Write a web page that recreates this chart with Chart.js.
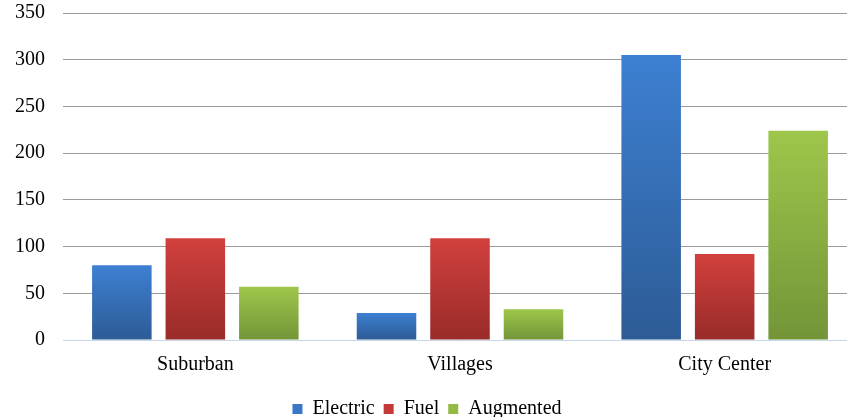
<!DOCTYPE html>
<html>
<head>
<meta charset="utf-8">
<script src="https://cdn.jsdelivr.net/npm/chart.js@4"></script>
<style>
  html, body { margin: 0; padding: 0; background: #fff; overflow: hidden; }
  #wrap { width: 860px; height: 446px; margin: -17px 0 0 -3px; }
</style>
</head>
<body>
<div id="wrap"><canvas id="chart"></canvas></div>
<script>
const categories = ['Suburban', 'Villages', 'City Center'];
const electric = [80, 29, 305];
const fuel = [109, 109, 92];
const augmented = [57, 33, 224];
const yTicks = [0, 50, 100, 150, 200, 250, 300, 350];

// gradient per bar, lighter at top, darker at bottom
function barGradient(top, bottom) {
    return function(context) {
        const chart = context.chart;
        const area = chart.chartArea;
        if (!area || context.raw === undefined) return top;
        const y = chart.scales.y;
        const yTop = y.getPixelForValue(context.raw);
        const yBase = y.getPixelForValue(0);
        if (!isFinite(yTop) || yBase - yTop < 1) return top;
        const g = chart.ctx.createLinearGradient(0, yTop, 0, yBase);
        g.addColorStop(0, top);
        g.addColorStop(1, bottom);
        return g;
    };
}

const serif = "'Liberation Serif', 'DejaVu Serif', serif";

new Chart(document.getElementById('chart'), {
    type: 'bar',
    data: {
        labels: categories,
        datasets: [
            { label: 'Electric', data: electric, backgroundColor: barGradient('#3d80d2', '#2d5b95') },
            { label: 'Fuel', data: fuel, backgroundColor: barGradient('#d2403d', '#982b29') },
            { label: 'Augmented', data: augmented, backgroundColor: barGradient('#9ec64b', '#739538') }
        ]
    },
    options: {
        responsive: true,
        maintainAspectRatio: false,
        animation: false,
        datasets: { bar: { barPercentage: 0.81, categoryPercentage: 0.833 } },
        layout: { padding: 0 },
        plugins: {
            legend: {
                position: 'bottom',
                labels: {
                    font: { family: serif, size: 20 },
                    color: '#000',
                    boxWidth: 10,
                    boxHeight: 10,
                    padding: 9,
                    generateLabels: function(chart) {
                        const solid = ['#3a78c6', '#c33a38', '#92ba44'];
                        return chart.data.datasets.map((ds, i) => ({
                            text: ds.label,
                            fillStyle: solid[i],
                            strokeStyle: solid[i],
                            lineWidth: 0,
                            hidden: false,
                            datasetIndex: i,
                            fontColor: '#000'
                        }));
                    }
                }
            },
            tooltip: { enabled: false }
        },
        scales: {
            x: {
                grid: { display: false, drawTicks: false },
                border: { color: '#c5d5ea', width: 1 },
                ticks: { font: { family: serif, size: 20 }, color: '#000', padding: 13 }
            },
            y: {
                min: 0,
                max: 350,
                afterBuildTicks: axis => { axis.ticks = yTicks.map(v => ({ value: v })); },
                grid: { color: '#9a9a9a', lineWidth: 1, drawTicks: false },
                border: { display: false },
                ticks: { font: { family: serif, size: 20 }, color: '#000', padding: 18 }
            }
        }
    }
});
</script>
</body>
</html>
